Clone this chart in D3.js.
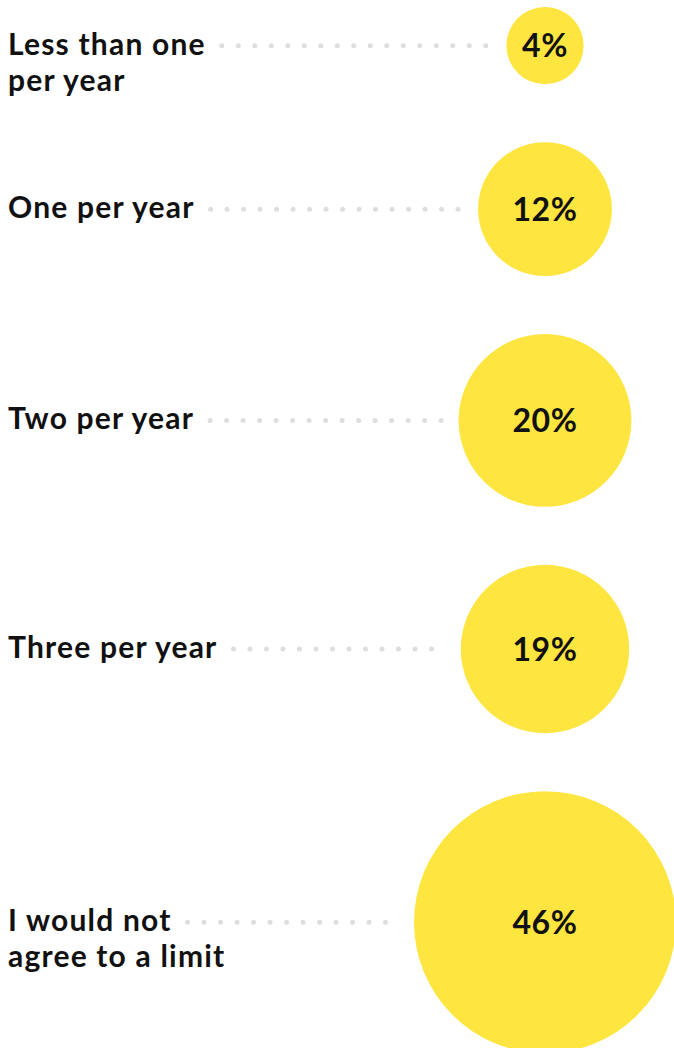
<!DOCTYPE html>
<html>
<head>
<meta charset="utf-8">
<script src="https://cdn.jsdelivr.net/npm/d3@7"></script>
<style>
  body { margin: 0; background: #fff; }
  text { font-family: Lato, sans-serif; font-weight: 700; }
</style>
</head>
<body>
<script>
const w = 674;
const h = 1048;

// data
const categories = [
    ["Less than one", "per year"],
    ["One per year"],
    ["Two per year"],
    ["Three per year"],
    ["I would not", "agree to a limit"]
];
const values = [4, 12, 20, 19, 46];

const cx = 545;
const topPad = 7;
const gap = 58;
const labelX = 8;

const svg = d3.select("body").append("svg").attr("width", w).attr("height", h);

const rScale = d3.scaleSqrt().domain([0, 46]).range([0, 131]);

// stack circles top to bottom
let yCursor = topPad;
const rows = values.map(function (v, i) {
    const r = rScale(v);
    const cy = yCursor + r;
    yCursor = cy + r + gap;
    return { value: v, label: categories[i], r: r, cy: cy };
});

const g = svg.selectAll("g.row")
    .data(rows)
    .enter()
    .append("g")
    .attr("class", "row");

g.append("circle")
    .attr("cx", cx)
    .attr("cy", function (d) { return d.cy; })
    .attr("r", function (d) { return d.r; })
    .attr("fill", "#ffe53f");

g.append("text")
    .attr("x", cx)
    .attr("y", function (d) { return d.cy; })
    .attr("dy", "0.36em")
    .attr("text-anchor", "middle")
    .attr("font-size", 32)
    .attr("letter-spacing", 0.5)
    .attr("fill", "#111")
    .text(function (d) { return d.value + "%"; });

const labels = g.append("text")
    .attr("class", "label")
    .attr("x", labelX)
    .attr("y", function (d) { return d.cy; })
    .attr("font-size", 30)
    .attr("letter-spacing", 1.2)
    .attr("fill", "#111");

labels.selectAll("tspan")
    .data(function (d) { return d.label; })
    .enter()
    .append("tspan")
    .attr("x", labelX)
    .attr("dy", function (d, i) { return i === 0 ? "0.3em" : "1.2em"; })
    .text(function (d) { return d; });

// dotted leaders
g.each(function (d) {
    const first = d3.select(this).select("text.label tspan").node();
    const x1 = labelX + first.getComputedTextLength() + 16;
    const x2 = cx - d.r - 15;
    d3.select(this).insert("line", "text.label")
        .attr("x1", x1)
        .attr("x2", x2)
        .attr("y1", d.cy)
        .attr("y2", d.cy)
        .attr("stroke", "#dedede")
        .attr("stroke-width", 5)
        .attr("stroke-linecap", "round")
        .attr("stroke-dasharray", "0 16.5");
});
</script>
</body>
</html>
